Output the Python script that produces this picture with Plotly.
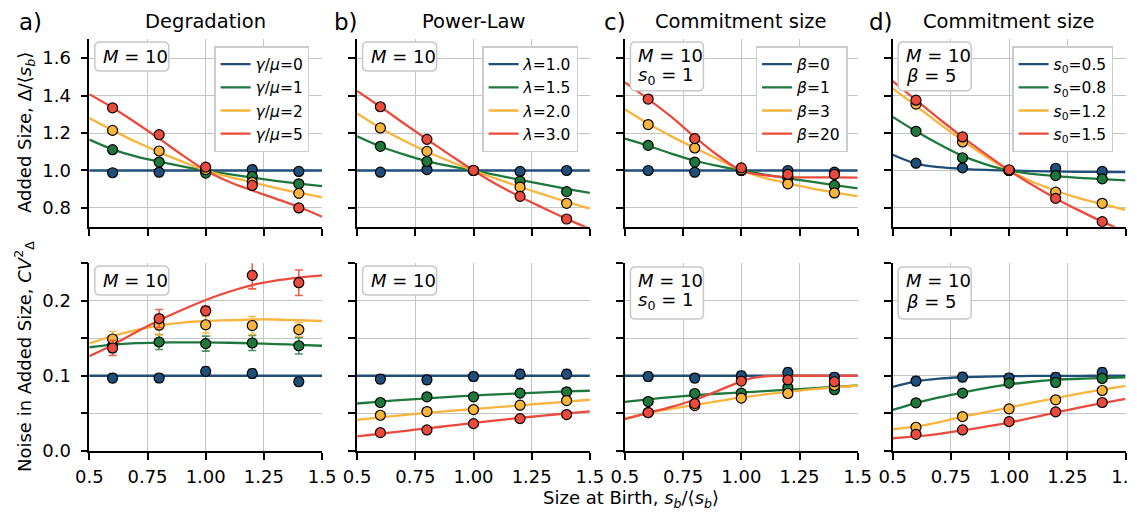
import plotly.graph_objects as go

W, H = 1137, 512          # reference canvas (pixels)
BODY = 8                  # default page margin around the plot div
FW, FH = W - BODY, H - BODY
FONT = "DejaVu Sans"

# ---------------- data ----------------
x_pts = [0.6, 0.8, 1.0, 1.2, 1.4]
x_curve = [0.5, 0.6, 0.7, 0.8, 0.9, 1.0, 1.1, 1.2, 1.3, 1.4, 1.5]
x_curve_knee = [0.5, 0.6, 0.7, 0.8, 0.9, 1.0, 1.05, 1.1, 1.15, 1.2, 1.3, 1.4, 1.5]

colors = ["#1f4e79", "#1e783c", "#f9b43c", "#eb4b3c"]
err_colors = ["rgba(31,78,121,0.6)", "rgba(30,120,60,0.8)", "rgba(249,180,60,0.9)", "rgba(235,75,60,0.9)"]

titles = ["Degradation", "Power-Law", "Commitment size", "Commitment size"]
panel_tags = ["a)", "b)", "c)", "d)"]

deg_labels = ["<i>γ</i>/<i>μ</i>=0", "<i>γ</i>/<i>μ</i>=1", "<i>γ</i>/<i>μ</i>=2", "<i>γ</i>/<i>μ</i>=5"]
pl_labels = ["<i>λ</i>=1.0", "<i>λ</i>=1.5", "<i>λ</i>=2.0", "<i>λ</i>=3.0"]
cs_labels = ["<i>β</i>=0", "<i>β</i>=1", "<i>β</i>=3", "<i>β</i>=20"]
s0_labels = ["<i>s</i><sub>0</sub>=0.5", "<i>s</i><sub>0</sub>=0.8", "<i>s</i><sub>0</sub>=1.2", "<i>s</i><sub>0</sub>=1.5"]

# Added size (top row)
deg_added_pts = [
    [0.988, 0.991, 1.000, 1.005, 0.995],
    [1.111, 1.045, 0.986, 0.968, 0.929],
    [1.214, 1.104, 1.005, 0.937, 0.878],
    [1.334, 1.191, 1.018, 0.920, 0.800],
]
deg_added_curve = [
    [1.0, 1.0, 1.0, 1.0, 1.0, 1.0, 1.0, 1.0, 1.0, 1.0, 1.0],
    [1.165, 1.113, 1.075, 1.047, 1.022, 1.0, 0.980, 0.962, 0.945, 0.930, 0.916],
    [1.280, 1.215, 1.153, 1.098, 1.047, 1.0, 0.966, 0.937, 0.907, 0.880, 0.857],
    [1.407, 1.335, 1.255, 1.170, 1.082, 1.0, 0.940, 0.893, 0.850, 0.805, 0.753],
]
pl_added_pts = [
    [0.991, 1.005, 1.000, 0.995, 1.000],
    [1.129, 1.048, 1.000, 0.943, 0.887],
    [1.227, 1.102, 1.000, 0.911, 0.825],
    [1.340, 1.166, 1.000, 0.862, 0.741],
]
pl_added_curve = [
    [1.0, 1.0, 1.0, 1.0, 1.0, 1.0, 1.0, 1.0, 1.0, 1.0, 1.0],
    [1.182, 1.128, 1.086, 1.050, 1.023, 1.0, 0.975, 0.950, 0.926, 0.902, 0.880],
    [1.304, 1.227, 1.160, 1.100, 1.048, 1.0, 0.955, 0.912, 0.872, 0.833, 0.797],
    [1.425, 1.340, 1.252, 1.166, 1.082, 1.0, 0.925, 0.860, 0.800, 0.742, 0.688],
]
cs_added_pts = [
    [1.000, 0.991, 1.000, 1.000, 0.991],
    [1.134, 1.045, 1.000, 0.961, 0.920],
    [1.245, 1.120, 1.003, 0.929, 0.880],
    [1.381, 1.170, 1.014, 0.979, 0.979],
]
cs_added_curve = [
    [1.0, 1.0, 1.0, 1.0, 1.0, 1.0, 1.0, 1.0, 1.0, 1.0, 1.0],
    [1.170, 1.132, 1.090, 1.052, 1.024, 1.0, 0.978, 0.958, 0.940, 0.922, 0.904],
    [1.327, 1.250, 1.182, 1.120, 1.060, 1.0, 0.960, 0.931, 0.905, 0.883, 0.862],
    [1.470, 1.381, 1.286, 1.179, 1.080, 1.0, 0.975, 0.964, 0.963, 0.963, 0.962],
]
s0_added_pts = [
    [1.039, 1.014, 1.000, 1.012, 0.995],
    [1.209, 1.068, 1.000, 0.973, 0.955],
    [1.354, 1.152, 1.000, 0.884, 0.825],
    [1.375, 1.179, 1.004, 0.851, 0.727],
]
s0_added_curve = [
    [1.084, 1.037, 1.018, 1.009, 1.003, 1.0, 0.997, 0.995, 0.993, 0.992, 0.991],
    [1.286, 1.209, 1.140, 1.078, 1.033, 1.0, 0.982, 0.970, 0.961, 0.954, 0.947],
    [1.438, 1.345, 1.250, 1.160, 1.075, 1.0, 0.940, 0.892, 0.852, 0.820, 0.790],
    [1.477, 1.375, 1.275, 1.178, 1.087, 1.0, 0.922, 0.851, 0.787, 0.727, 0.672],
]

# Noise in added size (bottom row)
deg_noise_pts = [
    [0.0969, 0.0970, 0.1058, 0.1030, 0.0920],
    [0.1400, 0.1450, 0.1428, 0.1437, 0.1400],
    [0.1490, 0.1674, 0.1680, 0.1670, 0.1616],
    [0.1370, 0.1763, 0.1866, 0.2339, 0.2241],
]
deg_noise_err = [
    [0.006, 0.006, 0.006, 0.006, 0.005],
    [0.009, 0.010, 0.010, 0.010, 0.011],
    [0.010, 0.013, 0.011, 0.012, 0.009],
    [0.010, 0.012, 0.006, 0.018, 0.017],
]
deg_noise_curve = [
    [0.1, 0.1, 0.1, 0.1, 0.1, 0.1, 0.1, 0.1, 0.1, 0.1, 0.1],
    [0.138, 0.1415, 0.1435, 0.1443, 0.1446, 0.1445, 0.1440, 0.1433, 0.1423, 0.1412, 0.140],
    [0.143, 0.153, 0.161, 0.167, 0.171, 0.173, 0.174, 0.175, 0.175, 0.174, 0.173],
    [0.126, 0.141, 0.158, 0.174, 0.188, 0.201, 0.212, 0.221, 0.227, 0.231, 0.234],
]
pl_noise_pts = [
    [0.0956, 0.0946, 0.0990, 0.1022, 0.1022],
    [0.0643, 0.0719, 0.0719, 0.0768, 0.0786],
    [0.0473, 0.0522, 0.0549, 0.0607, 0.0669],
    [0.0241, 0.0277, 0.0361, 0.0428, 0.0482],
]
pl_noise_err = [
    [0.006, 0.006, 0.006, 0.006, 0.006],
    [0.003, 0.003, 0.003, 0.003, 0.003],
    [0.002, 0.002, 0.002, 0.002, 0.002],
    [0.002, 0.002, 0.002, 0.002, 0.002],
]
pl_noise_curve = [
    [0.1, 0.1, 0.1, 0.1, 0.1, 0.1, 0.1, 0.1, 0.1, 0.1, 0.1],
    [0.063, 0.0655, 0.0678, 0.0698, 0.0718, 0.0736, 0.0752, 0.0766, 0.0779, 0.0791, 0.080],
    [0.041, 0.0445, 0.0475, 0.0505, 0.053, 0.0556, 0.058, 0.0605, 0.063, 0.0655, 0.068],
    [0.019, 0.0226, 0.0262, 0.0298, 0.0334, 0.037, 0.0404, 0.0437, 0.0468, 0.0497, 0.0525],
]
cs_noise_pts = [
    [0.0990, 0.0969, 0.1000, 0.1044, 0.0980],
    [0.0656, 0.0763, 0.0768, 0.0843, 0.0813],
    [0.0509, 0.0602, 0.0701, 0.0763, 0.0870],
    [0.0509, 0.0629, 0.0929, 0.0946, 0.0920],
]
cs_noise_err = [
    [0.006, 0.006, 0.006, 0.006, 0.006],
    [0.004, 0.004, 0.004, 0.004, 0.004],
    [0.003, 0.003, 0.003, 0.003, 0.003],
    [0.003, 0.003, 0.003, 0.003, 0.003],
]
cs_noise_curve = [
    [0.1, 0.1, 0.1, 0.1, 0.1, 0.1, 0.1, 0.1, 0.1, 0.1, 0.1],
    [0.065, 0.0685, 0.0715, 0.074, 0.076, 0.0777, 0.0795, 0.0813, 0.083, 0.085, 0.087],
    [0.043, 0.050, 0.056, 0.0612, 0.066, 0.071, 0.075, 0.0785, 0.0818, 0.0845, 0.087],
]
cs_noise_curve_red = [0.042, 0.0505, 0.0585, 0.068, 0.080, 0.0925, 0.097, 0.0993, 0.0999, 0.1, 0.1, 0.1, 0.1]
s0_noise_pts = [
    [0.0929, 0.0982, 0.0970, 0.0980, 0.1044],
    [0.0639, 0.0768, 0.0902, 0.0910, 0.0964],
    [0.0313, 0.0455, 0.0558, 0.0679, 0.0803],
    [0.0219, 0.0277, 0.0388, 0.0518, 0.0643],
]
s0_noise_err = [
    [0.006, 0.006, 0.006, 0.006, 0.006],
    [0.004, 0.004, 0.004, 0.004, 0.004],
    [0.003, 0.003, 0.003, 0.003, 0.003],
    [0.003, 0.003, 0.003, 0.003, 0.003],
]
s0_noise_curve = [
    [0.085, 0.0925, 0.0962, 0.098, 0.0989, 0.0994, 0.0997, 0.0998, 0.0999, 0.1, 0.1],
    [0.0545, 0.0635, 0.071, 0.0775, 0.0835, 0.0885, 0.092, 0.0945, 0.096, 0.097, 0.098],
    [0.0286, 0.032, 0.038, 0.0455, 0.0515, 0.0576, 0.064, 0.070, 0.076, 0.0815, 0.0866],
    [0.0166, 0.019, 0.0225, 0.027, 0.032, 0.0375, 0.044, 0.051, 0.0575, 0.0635, 0.069],
]

x_tickvals = [0.5, 0.75, 1.0, 1.25, 1.5]
x_ticktext = ["0.5", "0.75", "1.00", "1.25", "1.5"]
top_tickvals = [0.8, 1.0, 1.2, 1.4, 1.6]
top_ticktext = ["0.8", "1.0", "1.2", "1.4", "1.6"]
bot_tickvals = [0.0, 0.05, 0.1, 0.15, 0.2, 0.25]
bot_ticktext = ["0.0", "", "0.1", "", "0.2", ""]

# ---------------- layout geometry (reference pixels) ----------------
LEFT0, PW, STEP = 89.3, 232.8, 267.8
ROWS = [(39.3, 226.7), (263.3, 450.7)]


def px(x):
    return (x - BODY) / FW


def py(y):
    return 1 - (y - BODY) / FH


fig = go.Figure()

panels_top = [
    (deg_added_curve, deg_added_pts, deg_labels),
    (pl_added_curve, pl_added_pts, pl_labels),
    (cs_added_curve, cs_added_pts, cs_labels),
    (s0_added_curve, s0_added_pts, s0_labels),
]
panels_bot = [
    (deg_noise_curve, deg_noise_pts, deg_noise_err),
    (pl_noise_curve, pl_noise_pts, pl_noise_err),
    (cs_noise_curve, cs_noise_pts, cs_noise_err),
    (s0_noise_curve, s0_noise_pts, s0_noise_err),
]
legend_ids = ["legend", "legend2", "legend3", "legend4"]

for p in range(4):
    # top row
    n = p + 1
    xa, ya = ("x" if n == 1 else f"x{n}"), ("y" if n == 1 else f"y{n}")
    curves, pts, labels = panels_top[p]
    for k in range(4):
        fig.add_trace(go.Scatter(
            x=x_curve, y=curves[k], mode="lines", name=labels[k],
            line=dict(color=colors[k], width=2.3, shape="spline", smoothing=1.0),
            xaxis=xa, yaxis=ya, legend=legend_ids[p], legendgroup=f"g{p}{k}",
            showlegend=True, hoverinfo="skip"))
    for k in range(4):
        fig.add_trace(go.Scatter(
            x=x_pts, y=pts[k], mode="markers",
            marker=dict(color=colors[k], size=10, line=dict(color="black", width=1.2)),
            xaxis=xa, yaxis=ya, showlegend=False))
    # bottom row
    n = p + 5
    xa, ya = f"x{n}", f"y{n}"
    curves, pts, errs = panels_bot[p]
    for k in range(4):
        if p == 2 and k == 3:
            cx, cy = x_curve_knee, cs_noise_curve_red
        else:
            cx, cy = x_curve, curves[k]
        fig.add_trace(go.Scatter(
            x=cx, y=cy, mode="lines",
            line=dict(color=colors[k], width=2.3, shape="spline", smoothing=0.8),
            xaxis=xa, yaxis=ya, showlegend=False, hoverinfo="skip"))
    for k in range(4):
        fig.add_trace(go.Scatter(
            x=x_pts, y=pts[k], mode="markers",
            marker=dict(color=colors[k], size=10, line=dict(color="black", width=1.2)),
            error_y=dict(type="data", array=errs[k], visible=True, color=err_colors[k],
                         thickness=1.6, width=4),
            xaxis=xa, yaxis=ya, showlegend=False))

axis_common = dict(showline=True, linecolor="black", linewidth=1.6, ticks="outside",
                   ticklen=7, tickwidth=1.5, tickcolor="black", showgrid=True,
                   gridcolor="#c4c4c4", gridwidth=1.2, zeroline=False, automargin=False,
                   ticklabeloverflow="allow",
                   tickfont=dict(family=FONT, size=18, color="black"), mirror=False)

layout = {}
for r in range(2):
    y0, y1 = ROWS[r]
    for c in range(4):
        n = r * 4 + c + 1
        x0 = LEFT0 + c * STEP
        xk = "xaxis" if n == 1 else f"xaxis{n}"
        yk = "yaxis" if n == 1 else f"yaxis{n}"
        layout[xk] = dict(axis_common, domain=[px(x0), px(x0 + PW)], range=[0.5, 1.5],
                          anchor="y" if n == 1 else f"y{n}",
                          tickvals=x_tickvals, ticktext=x_ticktext,
                          showticklabels=(r == 1), ticklabelstandoff=2)
        if r == 0:
            yt = dict(range=[0.7, 1.7], tickvals=top_tickvals, ticktext=top_ticktext)
        else:
            yt = dict(range=[0.0, 0.25], tickvals=bot_tickvals, ticktext=bot_ticktext)
        layout[yk] = dict(axis_common, domain=[py(y1), py(y0)],
                          anchor="x" if n == 1 else f"x{n}",
                          showticklabels=(c == 0), ticklabelstandoff=6, **yt)

legend_pos = [214.3, 482.3, 755.7, 1012.3]
for p in range(4):
    key = "legend" if p == 0 else f"legend{p + 1}"
    layout[key] = dict(x=px(legend_pos[p]), y=py(46.3), xanchor="left", yanchor="top",
                       bgcolor="white", bordercolor="#cccccc", borderwidth=1.3,
                       font=dict(family=FONT, size=15.5, color="black"),
                       tracegroupgap=0, itemwidth=30)

fig.update_layout(**layout)

annotations = []
shapes = []


def rrect(x0, y0, x1, y1, r=5):
    X, Y = px, py
    path = (f"M {X(x0 + r)},{Y(y0)} L {X(x1 - r)},{Y(y0)} Q {X(x1)},{Y(y0)} {X(x1)},{Y(y0 + r)} "
            f"L {X(x1)},{Y(y1 - r)} Q {X(x1)},{Y(y1)} {X(x1 - r)},{Y(y1)} "
            f"L {X(x0 + r)},{Y(y1)} Q {X(x0)},{Y(y1)} {X(x0)},{Y(y1 - r)} "
            f"L {X(x0)},{Y(y0 + r)} Q {X(x0)},{Y(y0)} {X(x0 + r)},{Y(y0)} Z")
    return dict(type="path", path=path, xref="paper", yref="paper", layer="above",
                fillcolor="white", line=dict(color="#c8c8c8", width=1.5))


def text(x, y, s, size=18, xanchor="center", yanchor="middle", angle=0):
    annotations.append(dict(x=px(x), y=py(y), xref="paper", yref="paper", text=s,
                            showarrow=False, xanchor=xanchor, yanchor=yanchor,
                            textangle=angle,
                            font=dict(family=FONT, size=size, color="black")))


tag_x = [17, 332, 602, 867]
for p in range(4):
    cx = LEFT0 + p * STEP + PW / 2
    text(cx, 21, titles[p], size=19.5)
    text(tag_x[p], 22, panel_tags[p], size=23, xanchor="left")

# info boxes
box_rows = [(42, 71, 42, 90.7), (266, 295, 267, 319)]
for r in range(2):
    ys, ye, ys2, ye2 = box_rows[r]
    for p in range(4):
        bx = LEFT0 + p * STEP + 5.5
        if p < 2:
            shapes.append(rrect(bx, ys, bx + 74, ye))
            text(bx + 6, (ys + ye) / 2, "<i>M</i> = 10", xanchor="left")
        else:
            shapes.append(rrect(bx, ys2, bx + 73, ye2))
            text(bx + 6, ys2 + 13, "<i>M</i> = 10", xanchor="left")
            second = "<i>s</i><sub>0</sub> = 1" if p == 2 else "<i>β</i> = 5"
            text(bx + 6, ys2 + 34, second, xanchor="left")

text(26, 133, "Added Size, Δ/⟨<i>s</i><sub><i>b</i></sub>⟩", angle=-90)
text(24, 357, "Noise in Added Size, <i>CV</i><sup>2</sup><sub>Δ</sub>", angle=-90)
text(631, 499, "Size at Birth, <i>s</i><sub><i>b</i></sub>/⟨<i>s</i><sub><i>b</i></sub>⟩")

fig.update_layout(width=FW, height=FH, margin=dict(l=0, r=0, t=0, b=0, autoexpand=False),
                  paper_bgcolor="white", plot_bgcolor="white",
                  annotations=annotations, shapes=shapes,
                  font=dict(family=FONT, color="black"))

fig.write_html("out.html")
